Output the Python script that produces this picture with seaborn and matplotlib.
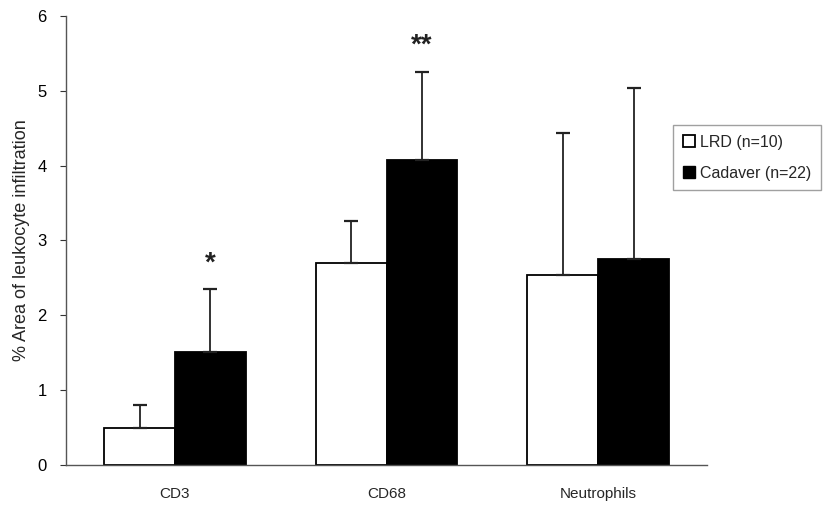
import matplotlib
matplotlib.use("Agg")
import matplotlib.pyplot as plt
import seaborn as sns
import pandas as pd
import numpy as np
from matplotlib.patches import Patch

# Mean % area of leukocyte infiltration and standard deviation per cell type
cell_types = ["CD3", "CD68", "Neutrophils"]
groups = ["LRD (n=10)", "Cadaver (n=22)"]
lrd_mean = [0.49, 2.70, 2.54]
lrd_sd = [0.31, 0.56, 1.90]
cad_mean = [1.51, 4.07, 2.75]
cad_sd = [0.84, 1.19, 2.29]
significance = ["*", "**", ""]
y_ticks = [0, 1, 2, 3, 4, 5, 6]

df = pd.DataFrame({
    "cell": cell_types * 2,
    "group": [groups[0]] * 3 + [groups[1]] * 3,
    "mean": lrd_mean + cad_mean,
    "sd": lrd_sd + cad_sd,
})

sns.set_style("white")
plt.rcParams["font.family"] = ["Liberation Sans", "DejaVu Sans"]

fig = plt.figure(figsize=(8.38, 5.09), dpi=100)
ax = fig.add_axes([0.0788, 0.0874, 0.7649, 0.8806])

sns.barplot(data=df, x="cell", y="mean", hue="group", order=cell_types,
            hue_order=groups, palette=["white", "black"], width=0.67,
            edgecolor="black", linewidth=1.3, errorbar=None, legend=False, ax=ax)

# upper-only error bars placed at each bar's centre
containers = ax.containers
for cont, g in zip(containers, groups):
    sub = df[df["group"] == g].set_index("cell").loc[cell_types]
    xs = [p.get_x() + p.get_width() / 2 for p in cont.patches]
    ax.errorbar(xs, sub["mean"].values,
                yerr=[np.zeros(len(xs)), sub["sd"].values],
                fmt="none", ecolor="#222222", elinewidth=1.3,
                capsize=5, capthick=1.6, zorder=1)

# significance marks above the cadaver bars
for p, m, s, mark in zip(containers[1].patches, cad_mean, cad_sd, significance):
    if mark:
        ax.text(p.get_x() + p.get_width() / 2, m + s + 0.17, mark,
                ha="center", va="bottom", fontsize=20, fontweight="bold",
                color="#222222")

ax.set_xlim(-0.515, 2.515)
ax.set_ylim(0, 6)
ax.set_yticks(y_ticks)
ax.set_yticklabels([str(t) for t in y_ticks], fontsize=12)
ax.tick_params(axis="y", direction="out", length=4, width=0.8, left=True,
               colors="#333333", labelcolor="black", pad=10)
ax.tick_params(axis="x", length=0, labelsize=11, pad=16)
ax.set_xlabel("")
ax.set_ylabel("% Area of leukocyte infiltration", fontsize=13, labelpad=5)

for side in ["top", "right"]:
    ax.spines[side].set_visible(False)
for side in ["left", "bottom"]:
    ax.spines[side].set_visible(True)
    ax.spines[side].set_color("#555555")
    ax.spines[side].set_linewidth(1.0)

handles = [Patch(facecolor="white", edgecolor="black", linewidth=1.3),
           Patch(facecolor="black", edgecolor="black")]
leg = fig.legend(handles, groups, loc="upper left",
                 bbox_to_anchor=(673 / 838, 1 - 125 / 509),
                 frameon=True, fancybox=False, fontsize=11.5,
                 handlelength=0.8, handleheight=0.8, handletextpad=0.3,
                 labelspacing=1.0, borderpad=0.6, borderaxespad=0)
leg.get_frame().set_edgecolor("#888888")
leg.get_frame().set_linewidth(1.0)

fig.savefig("out.png", dpi=100)
